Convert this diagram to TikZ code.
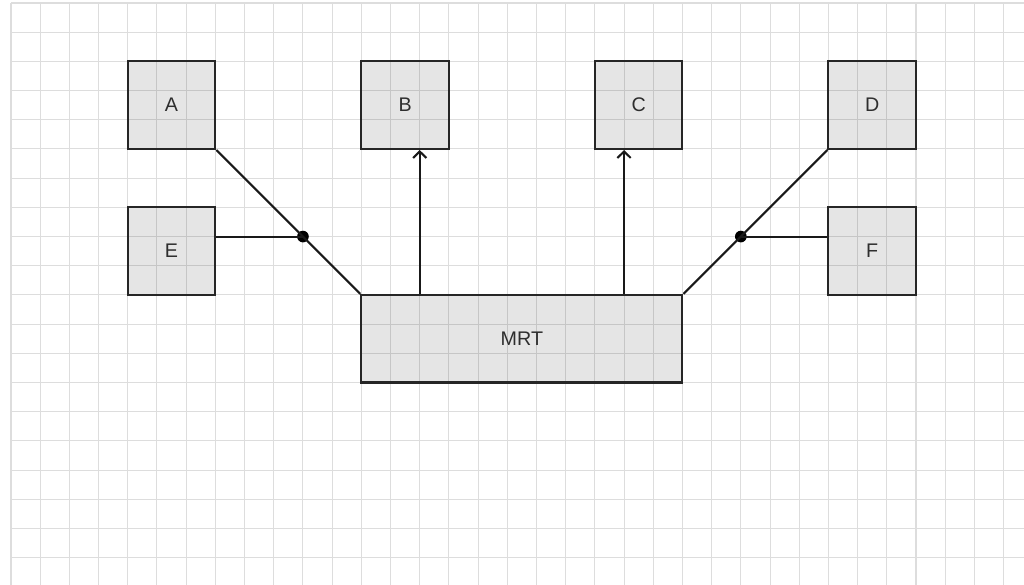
\documentclass[tikz,border=0pt]{standalone}
\usepackage{fontspec}
\setmainfont{Liberation Sans}
\usetikzlibrary{arrows.meta}
\definecolor{gridc}{HTML}{DDDDDD}
\definecolor{txt}{HTML}{2E2E2E}
\tikzset{
  box/.style={draw=black!85, line width=1pt, fill=black, fill opacity=0.1, text opacity=1,
    text=txt, inner sep=0pt, minimum width=1.5cm, minimum height=1.5cm, font=\fontsize{9.6}{11}\selectfont},
  conn/.style={draw=black!90, line width=1pt},
  dotnode/.style={circle, fill=black, inner sep=0pt, minimum size=0.2cm},
  arr/.style={conn, -{Straight Barb[length=3.2pt, width=6.5pt, line width=1pt]}}
}
\begin{document}
\begin{tikzpicture}[x=0.5cm, y=-0.5cm]
\fill[white] (-0.377,-0.103) rectangle (34.7,19.93);
\useasboundingbox (-0.377,-0.103) rectangle (34.7,19.93);
% grid
\foreach \i in {0,...,34} \draw[gridc, line width=0.5pt] (\i,0) -- (\i,19.93);
\foreach \j in {0,...,19} \draw[gridc, line width=0.5pt] (0,\j) -- (34.7,\j);
% boxes
\node[box] (A) at (5.5,3.5) {A};
\node[box] (E) at (5.5,8.5) {E};
\node[box] (B) at (13.5,3.5) {B};
\node[box] (C) at (21.5,3.5) {C};
\node[box] (D) at (29.5,3.5) {D};
\node[box] (F) at (29.5,8.5) {F};
\node[box, minimum width=5.5cm] (MRT) at (17.5,11.5) {MRT};
% junction dots
\node[dotnode] (dl) at (10,8) {};
\node[dotnode] (dr) at (25,8) {};
% connectors
\draw[conn] (A.south east) -- (dl.center) -- (MRT.north west);
\draw[conn] (E.east |- dl) -- (dl.center);
\draw[conn] (D.south west) -- (dr.center) -- (MRT.north east);
\draw[conn] (F.west |- dr) -- (dr.center);
\draw[arr] ([xshift=0.25cm]B.south |- MRT.north) -- ([xshift=0.25cm]B.south);
\draw[arr] ([xshift=-0.25cm]C.south |- MRT.north) -- ([xshift=-0.25cm]C.south);
\end{tikzpicture}
\end{document}
